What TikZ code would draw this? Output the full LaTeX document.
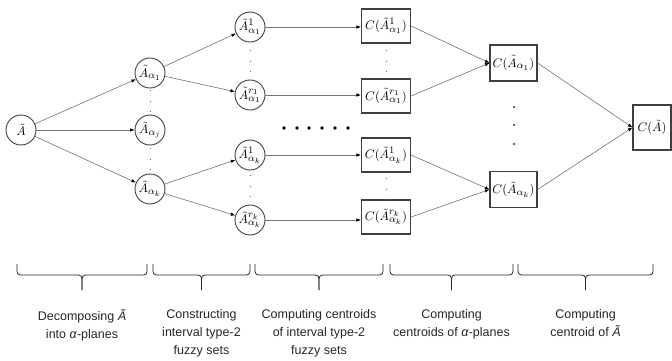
\documentclass[tikz,border=0pt]{standalone}
\usepackage{amsmath}
\usepackage{graphicx}
\usepackage{fontspec}
\setmainfont{Liberation Sans}
\usetikzlibrary{arrows.meta}
\DeclareMathSizes{10}{10}{8}{6}
\newcommand{\mth}[1]{\scalebox{1.25}{$#1$}}
\begin{document}
\begin{tikzpicture}[x=1pt,y=-1pt,
  circ/.style={circle,draw=black!75,line width=0.9pt,minimum size=30pt,inner sep=0pt,font=\fontsize{10}{12}\selectfont},
  cbox/.style={rectangle,draw=black!75,line width=1.1pt,minimum width=49pt,minimum height=34pt,inner sep=0pt,font=\fontsize{10}{12}\selectfont},
  arr/.style={draw=black!55,line width=0.6pt,-{Latex[length=4.5pt,width=3.5pt,color=black]}},
  vdots/.style={draw=black!60,line width=0.7pt,dash pattern=on 0.7pt off 10pt},
  bdot/.style={circle,fill=black,inner sep=0pt,minimum size=3.6pt},
  sdot/.style={circle,fill=black!80,inner sep=0pt,minimum size=2.4pt},
  brace/.style={draw=black!85,line width=0.8pt,rounded corners=3.5pt},
  lab/.style={align=center,anchor=north,font=\fontsize{12.5}{18}\selectfont,text=black!85}]
\useasboundingbox (0,0) rectangle (672,361);
% nodes
\node[circ] (A) at (21,130) {\mth{\tilde{A}}};
\node[circ] (a1) at (150,73) {\mth{\tilde{A}_{\alpha_1}}};
\node[circ] (aj) at (150,130) {\mth{\tilde{A}_{\alpha_j}}};
\node[circ] (ak) at (150,189) {\mth{\tilde{A}_{\alpha_k}}};
\node[circ] (c1) at (250,27) {\mth{\tilde{A}^{1}_{\alpha_1}}};
\node[circ] (c2) at (250,95) {\mth{\tilde{A}^{r_1}_{\alpha_1}}};
\node[circ] (c3) at (250,155) {\mth{\tilde{A}^{1}_{\alpha_k}}};
\node[circ] (c4) at (250,220) {\mth{\tilde{A}^{r_k}_{\alpha_k}}};
\node[cbox] (b1) at (386,26) {\mth{C(\tilde{A}^{1}_{\alpha_1})}};
\node[cbox] (b2) at (386,96) {\mth{C(\tilde{A}^{r_1}_{\alpha_1})}};
\node[cbox] (b3) at (386,155) {\mth{C(\tilde{A}^{1}_{\alpha_k})}};
\node[cbox] (b4) at (386,217) {\mth{C(\tilde{A}^{r_k}_{\alpha_k})}};
\node[cbox,minimum width=47pt,minimum height=36pt] (d1) at (513.5,63) {\mth{C(\tilde{A}_{\alpha_1})}};
\node[cbox,minimum width=47pt,minimum height=36pt] (d2) at (513.5,189.5) {\mth{C(\tilde{A}_{\alpha_k})}};
\node[cbox,minimum width=38pt,minimum height=45pt] (F) at (652,127.5) {\mth{C(\tilde{A})}};
% connectors
\draw[arr] (A) -- (a1);
\draw[arr] (A) -- (aj);
\draw[arr] (A) -- (ak);
\draw[arr] (a1) -- (c1);
\draw[arr] (a1) -- (c2);
\draw[arr] (ak) -- (c3);
\draw[arr] (ak) -- (c4);
\draw[arr] (c1) -- (b1.west |- c1);
\draw[arr] (c2) -- (b2.west |- c2);
\draw[arr] (c3) -- (b3.west |- c3);
\draw[arr] (c4) -- (b4.west |- c4);
\draw[arr] (b1.east) -- (d1.west);
\draw[arr] (b2.east) -- (d1.west);
\draw[arr] (b3.east) -- (d2.west);
\draw[arr] (b4.east) -- (d2.west);
\draw[arr] (d1.east) -- (F.west);
\draw[arr] (d2.east) -- (F.west);
% dotted ellipses
\draw[vdots] (150,90) -- (150,114);
\draw[vdots] (150,148) -- (150,172);
\draw[vdots] (250,50) -- (250,74);
\draw[vdots] (250,175) -- (250,199);
\draw[vdots] (386,50) -- (386,74);
\draw[vdots] (386,178) -- (386,202);
\foreach \i/\x in {1/284,2/297,3/309,4/322,5/335,6/348} \node[bdot] (h\i) at (\x,128) {};
\foreach \i/\y in {1/107,2/125,3/144} \node[sdot] (v\i) at (514,\y) {};
% braces
\foreach \xa/\xb in {17/147,153/250,255/383,390/513,518/653}{
  \pgfmathsetmacro{\xm}{(\xa+\xb)/2}
  \draw[brace] (\xa,264) -- (\xa,275) -- (\xm,275) -- (\xm,290);
  \draw[brace] (\xb,264) -- (\xb,275) -- (\xm,275) -- (\xm,290);
}
% labels
\node[lab] (l1) at (82,306) {Decomposing \textit{Ã}\\into \textit{α}-planes};
\node[lab] (l2) at (201.5,306) {Constructing\\interval type-2\\fuzzy sets};
\node[lab] (l3) at (319,306) {Computing centroids\\of interval type-2\\fuzzy sets};
\node[lab] (l4) at (451.5,306) {Computing\\centroids of \textit{α}-planes};
\node[lab] (l5) at (585.5,306) {Computing\\centroid of \textit{Ã}};
\end{tikzpicture}
\end{document}
